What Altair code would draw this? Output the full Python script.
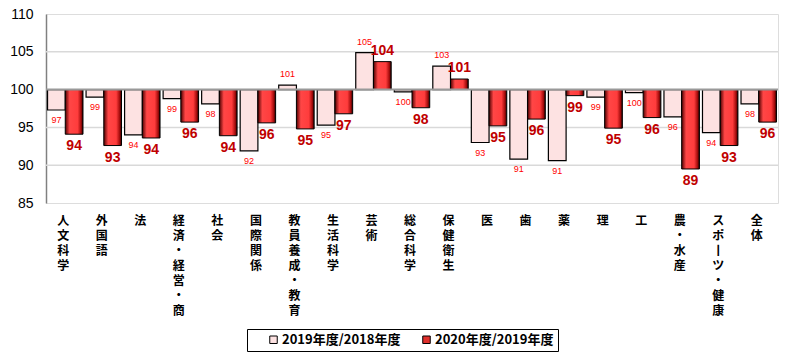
import altair as alt
import pandas as pd

categories = ["人文科学", "外国語", "法", "経済・経営・商", "社会", "国際関係", "教員養成・教育",
              "生活科学", "芸術", "総合科学", "保健衛生", "医", "歯", "薬", "理", "工",
              "農・水産", "スポーツ・健康", "全体"]
v2019 = [97.3, 99.0, 94.0, 98.8, 98.1, 91.9, 100.6, 95.3, 104.9, 99.7, 103.1,
         93.0, 90.8, 90.6, 99.0, 99.6, 96.4, 94.3, 98.1]
v2020 = [94.1, 92.6, 93.6, 95.7, 93.9, 95.6, 94.8, 96.8, 103.7, 97.6, 101.4,
         95.2, 96.1, 99.2, 94.9, 96.3, 89.5, 92.6, 95.7]
lab2019 = ["97", "99", "94", "99", "98", "92", "101", "95", "105", "100", "103",
           "93", "91", "91", "99", "100", "96", "94", "98"]
lab2020 = ["94", "93", "94", "96", "94", "96", "95", "97", "104", "98", "101",
           "95", "96", "99", "95", "96", "89", "93", "96"]
S1 = "2019年度/2018年度"
S2 = "2020年度/2019年度"
grid_values = [90, 95, 105]
y_ticks = [85, 90, 95, 100, 105, 110]

rows = []
for c, a, b, la, lb in zip(categories, v2019, v2020, lab2019, lab2020):
    rows.append({"category": c, "series": S1, "value": a, "label": la})
    rows.append({"category": c, "series": S2, "value": b, "label": lb})
df = pd.DataFrame(rows)

yscale = alt.Scale(domain=[85, 110], nice=False, zero=False)
yaxis = alt.Axis(title=None, values=y_ticks, grid=False, ticks=False, labelPadding=13,
                 labelFontSize=14, labelFont="Liberation Sans", labelColor="black",
                 labelOverlap=False, labelFlush=False,
                 domainColor="#808080", domainWidth=1.5)
JP = "Noto Sans CJK JP"

base = alt.Chart(df).encode(
    x=alt.X("category:N", sort=categories,
            scale=alt.Scale(paddingInner=0.08, paddingOuter=0.04),
            axis=alt.Axis(title=None, labelAngle=0, labelBaseline="top", labelAlign="center",
                          labelPadding=12, labelFontSize=12, labelFont=JP, labelFontWeight="bold",
                          labelColor="black", labelLineHeight=15, labelOffset=-2,
                          labelExpr="split(replace(datum.label, 'ー', '丨'), '')",
                          domain=False, ticks=False, labelOverlap=False)),
    xOffset=alt.XOffset("series:N", scale=alt.Scale(domain=[S1, S2])),
)

grid = alt.Chart(pd.DataFrame({"g": grid_values})).mark_rule(color="#d9d9d9", strokeWidth=1.5).encode(
    y=alt.Y("g:Q", scale=yscale, axis=yaxis)
)

bars1 = base.transform_filter(alt.datum.series == S1).mark_bar(stroke="black", strokeWidth=1.2).encode(
    y=alt.Y("value:Q", scale=yscale, axis=yaxis),
    y2=alt.datum(100),
    fill=alt.Fill("series:N", scale=alt.Scale(domain=[S1, S2], range=["#fde2e2", "#e0302c"]),
                  legend=alt.Legend(title=None, orient="none", legendX=201, legendY=315,
                                    direction="horizontal", strokeColor="black", padding=4,
                                    symbolType="square", symbolSize=56, symbolStrokeColor="black",
                                    symbolStrokeWidth=1, labelFont=JP, labelFontSize=13,
                                    labelFontWeight="bold", labelColor="black", columnPadding=3,
                                    labelOffset=2, symbolOffset=16)),
)

grad = alt.LinearGradient(
    gradient="linear", x1=0, x2=1, y1=0, y2=0,
    stops=[alt.GradientStop(offset=0, color="#500000"),
           alt.GradientStop(offset=0.25, color="#ff4646"),
           alt.GradientStop(offset=0.7, color="#ff3c3c"),
           alt.GradientStop(offset=0.9, color="#a00a0a"),
           alt.GradientStop(offset=1, color="#200000")])

bars2 = base.transform_filter(alt.datum.series == S2).mark_bar(color=grad, stroke="black", strokeWidth=1).encode(
    y=alt.Y("value:Q", scale=yscale, axis=yaxis),
    y2=alt.datum(100),
)

baseline = alt.Chart(pd.DataFrame({"b": [100]})).mark_rule(color="#999999", strokeWidth=2).encode(
    y=alt.Y("b:Q", scale=yscale, axis=yaxis)
)

t1b = base.transform_filter((alt.datum.series == S1) & (alt.datum.value < 100)).mark_text(
    baseline="top", dy=6, fontSize=9, color="#ff0000", font="Liberation Sans").encode(
    y=alt.Y("value:Q", scale=yscale, axis=yaxis), text="label:N")
t1a = base.transform_filter((alt.datum.series == S1) & (alt.datum.value >= 100)).mark_text(
    baseline="bottom", dy=-6, fontSize=9, color="#ff0000", font="Liberation Sans").encode(
    y=alt.Y("value:Q", scale=yscale, axis=yaxis), text="label:N")
t2b = base.transform_filter((alt.datum.series == S2) & (alt.datum.value < 100)).mark_text(
    baseline="top", dy=5, fontSize=14, fontWeight="bold", color="#c00000", font="Liberation Sans").encode(
    y=alt.Y("value:Q", scale=yscale, axis=yaxis), text="label:N")
t2a = base.transform_filter((alt.datum.series == S2) & (alt.datum.value >= 100)).mark_text(
    baseline="bottom", dy=-4, fontSize=14, fontWeight="bold", color="#c00000", font="Liberation Sans").encode(
    y=alt.Y("value:Q", scale=yscale, axis=yaxis), text="label:N")

chart = alt.layer(grid, bars1, bars2, baseline, t1b, t1a, t2b, t2a).properties(
    width=732, height=189,
    autosize=alt.AutoSizeParams(type="none"),
    padding={"left": 46, "top": 14, "right": 23, "bottom": 157},
).configure_view(stroke="black", strokeWidth=1.5).configure(background="white")

chart.save("out.html", embed_options={"renderer": "svg", "actions": False})
